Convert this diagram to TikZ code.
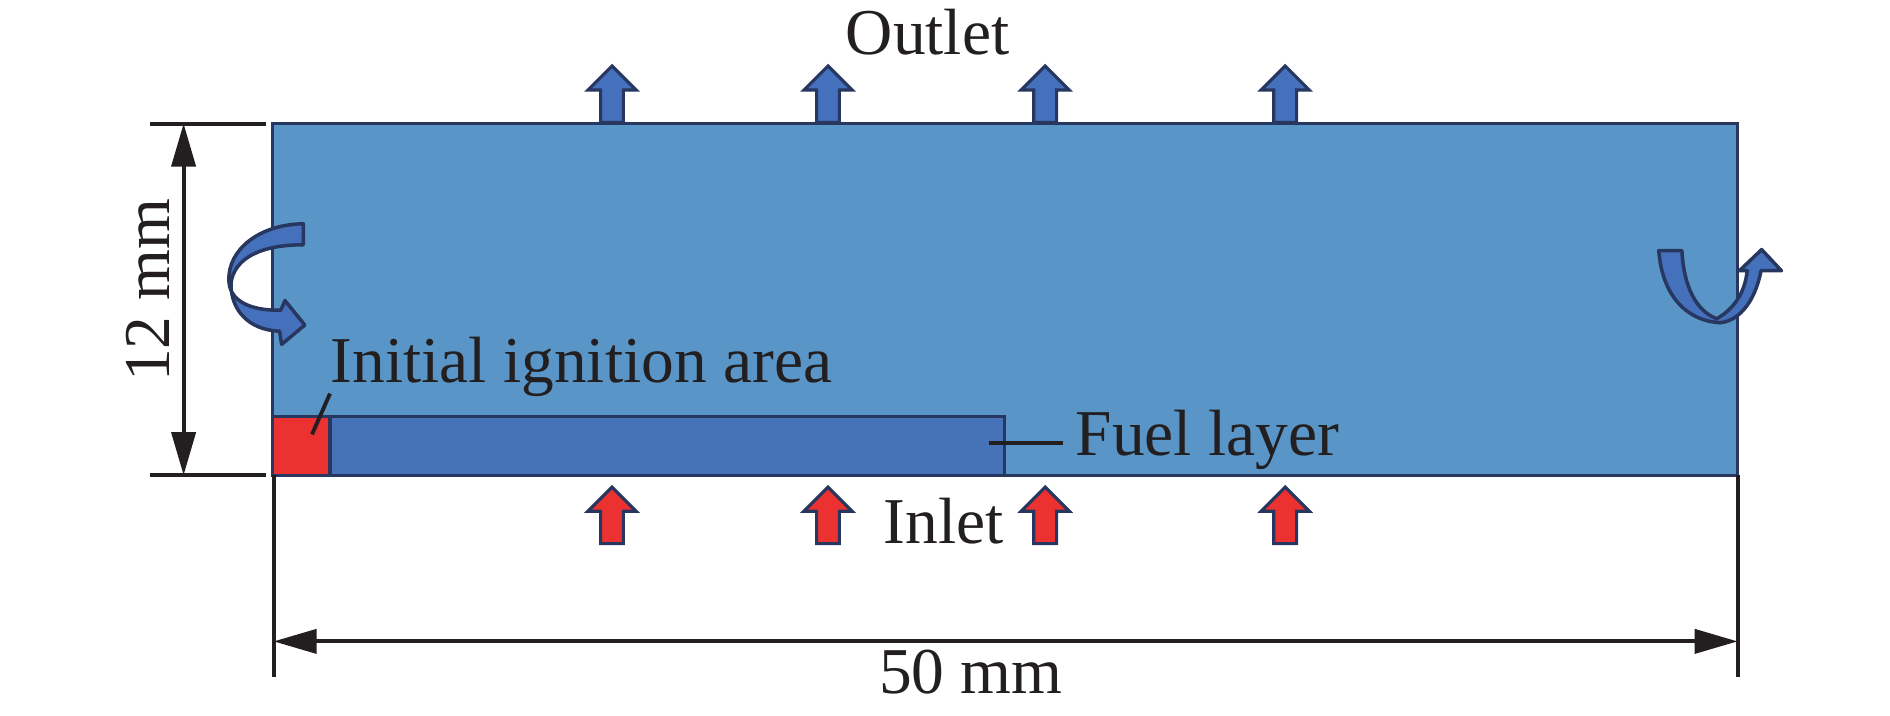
\documentclass[tikz,border=0pt]{standalone}
\usepackage{fontspec}
\setmainfont{Liberation Serif}
\usetikzlibrary{arrows.meta}
\definecolor{gasblue}{RGB}{89,150,199}
\definecolor{fuelblue}{RGB}{70,114,183}
\definecolor{flowblue}{RGB}{68,112,188}
\definecolor{navy}{RGB}{40,55,95}
\definecolor{firered}{RGB}{236,50,48}
\definecolor{txtgray}{RGB}{35,31,32}
\begin{document}
\begin{tikzpicture}[x=0.012cm,y=-0.012cm,
	lbl/.style={inner sep=0,text=txtgray,font=\fontsize{18.6}{22}\selectfont},
	wall/.style={draw=navy,line width=0.9pt},
	dimline/.style={line width=1.1pt,draw=txtgray},
	dimarrow/.style={dimline,{Triangle[length=4.3mm,width=2.4mm]}-{Triangle[length=4.3mm,width=2.4mm]}},
	outflow/.style={draw=navy,line width=0.9pt,fill=flowblue},
	inflow/.style={draw=navy,line width=0.9pt,fill=firered},
	swirl/.style={draw=navy,line width=1.0pt,fill=flowblue,line join=round}]
	\useasboundingbox (0,0) rectangle (1575,596);
	% Outlet arrows
	\foreach \x in {510,690,871,1071}
		\draw [outflow,shift={(\x,102)}] (-9.5,0) -- (-9.5,-27) -- (-20,-27) -- (0,-47) -- (20,-27) -- (9.5,-27) -- (9.5,0) -- cycle;
	% Domain
	\draw [wall,fill=gasblue] (227,103) rectangle (1448,396);
	\draw [wall,fill=fuelblue] (227,347) rectangle (837,396);
	\draw [wall,fill=firered] (227,347) rectangle (275,396);
	% Inlet arrows
	\foreach \x in {510,690,871,1071}
		\draw [inflow,shift={(\x,453)}] (-9.5,0) -- (-9.5,-27) -- (-20,-27) -- (0,-47) -- (20,-27) -- (9.5,-27) -- (9.5,0) -- cycle;
	% Periodic boundaries
	\draw [swirl] (252.8,186.5) .. controls (216,187) and (190,208) .. (190.7,233.4) .. controls (191,250) and (207,259) .. (234,258.5) -- (237.5,250.5) -- (254,270.9) -- (234.7,287) -- (233,276) .. controls (206,275) and (192,257) .. (192.5,236) .. controls (195,216) and (216,204) .. (252.8,204) -- cycle;
	\draw [swirl] (1382.3,208.9) -- (1401.6,208.9) .. controls (1403,238) and (1413,259) .. (1430.6,265.6) .. controls (1444,258) and (1454,245) .. (1456,225.6) -- (1449.5,225.6) -- (1468,208) -- (1484.5,225.6) -- (1467.5,225.6) .. controls (1463,249) and (1451,267) .. (1433.3,269) .. controls (1404,267) and (1385,245) .. (1382.3,208.9) -- cycle;
	% Labels
	\node (outlet) [lbl,anchor=base] at (773,45.3) {Outlet};
	\node (inlet) [lbl,anchor=base west] at (736,452.8) {Inlet};
	\node (ignition) [lbl,anchor=base west] at (275,318.9) {Initial ignition area};
	\node (fuel) [lbl,anchor=base west] at (895.8,379.2) {Fuel layer};
	\node (height) [lbl,rotate=90,anchor=base] at (141.6,241.7) {12 mm};
	\node (length) [lbl,anchor=base west] at (732,577.8) {50 mm};
	% Leaders
	\coordinate (ignA) at (275,328);
	\coordinate (ignB) at (260,362);
	\coordinate (fuelA) at (824,369.4);
	\coordinate (fuelB) at (886,369.4);
	\draw [dimline] (ignA) -- (ignB);
	\draw [dimline] (fuelA) -- (fuelB);
	% Dimensions
	\coordinate (hTopL) at (125,103);  \coordinate (hTopR) at (222,103);
	\coordinate (hBotL) at (125,396);  \coordinate (hBotR) at (222,396);
	\coordinate (hTop) at (153,103);   \coordinate (hBot) at (153,396);
	\coordinate (wLeftT) at (228,396); \coordinate (wLeftB) at (228,564);
	\coordinate (wRightT) at (1448,396); \coordinate (wRightB) at (1448,564);
	\coordinate (wLeft) at (228,534.5); \coordinate (wRight) at (1448,534.5);
	\draw [dimline] (hTopL) -- (hTopR);
	\draw [dimline] (hBotL) -- (hBotR);
	\draw [dimarrow] (hTop) -- (hBot);
	\draw [dimline] (wLeftT) -- (wLeftB);
	\draw [dimline] (wRightT) -- (wRightB);
	\draw [dimarrow] (wLeft) -- (wRight);
\end{tikzpicture}
\end{document}
